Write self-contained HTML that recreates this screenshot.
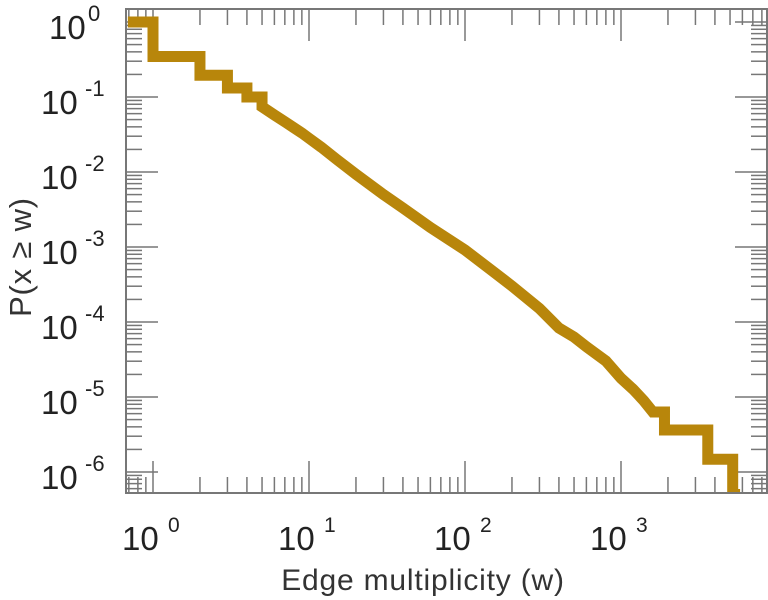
<!DOCTYPE html>
<html><head><meta charset="utf-8"><style>
html,body{margin:0;padding:0;background:#fff;}
svg{display:block;font-family:"Liberation Sans",sans-serif;}
</style></head><body>
<svg id="chart" width="768" height="600" viewBox="0 0 768 600" xmlns="http://www.w3.org/2000/svg">
<defs><clipPath id="clip"><rect x="126" y="9" width="641" height="484"/></clipPath></defs>
<g id="ticks"></g>
<g id="series" clip-path="url(#clip)"></g>
<rect x="126" y="9" width="641" height="484" fill="none" stroke="#777" stroke-width="2"/>
<g id="labels"></g>
<text x="423" y="590" font-size="30" letter-spacing="0.8" text-anchor="middle" fill="#333">Edge multiplicity (w)</text>
<text transform="translate(31,257) rotate(-90)" font-size="31" letter-spacing="0.8" text-anchor="middle" fill="#333">P(x ≥ w)</text>
</svg>
<script>
const xDecades = [0, 1, 2, 3];
const yDecades = [0, -1, -2, -3, -4, -5, -6];
const wValues = [0.69, 1, 2, 3, 4, 5, 6, 7, 8, 9, 10, 12, 15, 20, 30, 40, 60, 100, 150, 200, 300, 400, 500, 600, 800, 1000, 1200, 1400, 1600, 1900, 3600, 5200, 5800];
const logP = [0, -0.46, -0.71, -0.88, -1.0, -1.13, -1.24, -1.33, -1.41, -1.48, -1.55, -1.67, -1.83, -2.03, -2.3, -2.48, -2.74, -3.04, -3.32, -3.52, -3.82, -4.08, -4.2, -4.33, -4.52, -4.75, -4.9, -5.05, -5.2, -5.44, -5.83, -6.3, -6.3];

const NS = "http://www.w3.org/2000/svg";
function xs(w){ return 153 + 156 * Math.log10(w); }
function ys(lp){ return 22 - 75 * lp; }
function mk(tag, attrs, parent){ const e = document.createElementNS(NS, tag); for (const k in attrs) e.setAttribute(k, attrs[k]); parent.appendChild(e); return e; }

const ticks = document.getElementById('ticks');
const labels = document.getElementById('labels');
const L = 126, R = 767, T = 9, B = 493;
for (let d = -1; d <= 3; d++) {
  for (let m = 1; m <= 9; m++) {
    const x = xs(m * Math.pow(10, d));
    if (x < L || x > R) continue;
    const len = m === 1 ? 32 : 16;
    const t1 = mk('line', {x1: x, x2: x, y1: B, y2: B - len, stroke: '#777', 'stroke-width': 1.5}, ticks);
    
    
    const t2 = mk('line', {x1: x, x2: x, y1: T, y2: T + len, stroke: '#777', 'stroke-width': 1.5}, ticks);
    
    
  }
}
for (let d = -7; d <= 0; d++) {
  for (let m = 1; m <= 9; m++) {
    const y = ys(d + Math.log10(m));
    if (y < T || y > B) continue;
    const len = m === 1 ? 32 : 16;
    const t1 = mk('line', {x1: L, x2: L + len, y1: y, y2: y, stroke: '#777', 'stroke-width': 1.5}, ticks);
    
    
    const t2 = mk('line', {x1: R, x2: R - len, y1: y, y2: y, stroke: '#777', 'stroke-width': 1.5}, ticks);
    
    
  }
}
xDecades.forEach(d => {
  const x = xs(Math.pow(10, d));
  const t = mk('text', {x: x - 31, y: 550, 'font-size': 33, fill: '#222'}, labels);
  
  
  t.textContent = '10';
  const s = mk('text', {x: x + 15, y: 532, 'font-size': 21, fill: '#222'}, labels);
  
  
  s.textContent = String(d);
});
yDecades.forEach(d => {
  const y = ys(d);
  const exp = d === 0 ? '0' : '-' + (-d);
  const t = mk('text', {x: d === 0 ? 49 : 41, y: y + 17, 'font-size': 33, fill: '#222'}, labels);
  
  
  t.textContent = '10';
  const s = mk('text', {x: d === 0 ? 88 : 85, y: y - 1, 'font-size': 22, fill: '#222'}, labels);
  
  
  s.textContent = exp;
});
let dstr = 'M' + xs(wValues[0]) + ' ' + ys(logP[0]);
for (let i = 1; i < wValues.length; i++) {
  const x = xs(wValues[i]), y = ys(logP[i]);
  const step = wValues[i] <= 5 || wValues[i] >= 1900;
  if (step) dstr += ' L' + x + ' ' + ys(logP[i - 1]) + ' L' + x + ' ' + y;
  else dstr += ' L' + x + ' ' + y;
}
const p = mk('path', {d: dstr, fill: 'none', stroke: '#b8860b', 'stroke-width': 11, 'stroke-linejoin': 'miter'}, document.getElementById('series'));


</script>
</body></html>
